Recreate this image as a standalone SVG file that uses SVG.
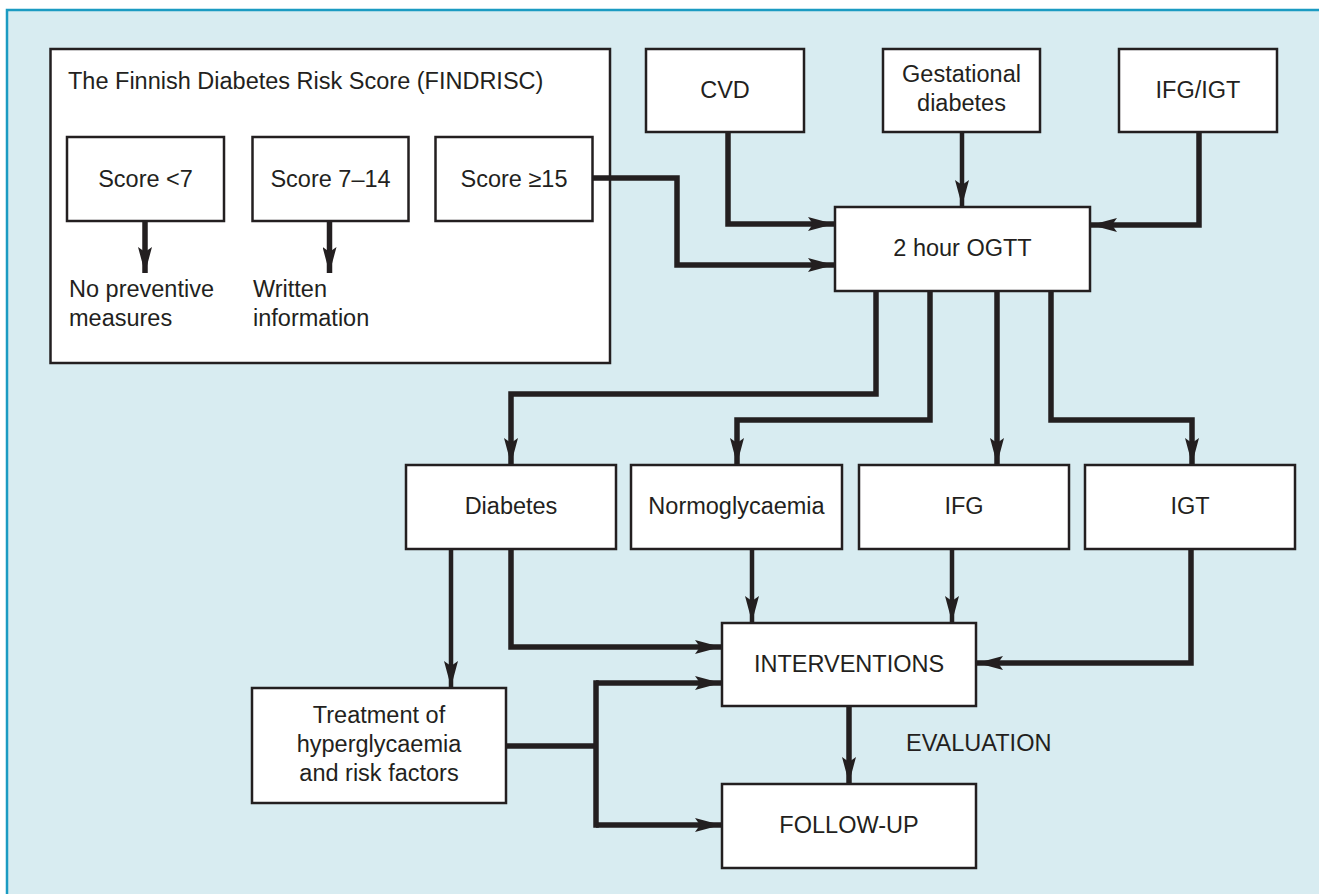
<svg xmlns="http://www.w3.org/2000/svg" width="1319" height="894" viewBox="0 0 1319 894">
<style>
.box{fill:#fff;stroke:#231f20;stroke-width:2.5}
.t{font-family:"Liberation Sans",Arial,sans-serif;font-size:23.5px;fill:#231f20}
.c{text-anchor:middle}
.ln{fill:none;stroke:#231f20;stroke-width:5.5;stroke-linejoin:miter;stroke-linecap:butt}
.thin{stroke-width:4.5}
</style>
<defs>
<marker id="ah" markerUnits="userSpaceOnUse" markerWidth="27" markerHeight="14" refX="26" refY="7" orient="auto" viewBox="0 0 27 14">
<path d="M0,0 L26,7 L0,14 L5,7 z" fill="#231f20"/>
</marker>
</defs>
<rect x="7" y="10" width="1330" height="900" fill="#d8ecf1" stroke="#1b9bc2" stroke-width="2.5"/>

<g id="findrisc">
<rect class="box" x="50.5" y="49" width="559.5" height="314"/>
<text class="t" x="68" y="89">The Finnish Diabetes Risk Score (FINDRISC)</text>
</g>
<g id="score_lt7">
<rect class="box" x="67" y="137" width="157" height="84"/>
<text class="t c" x="145.5" y="187">Score &lt;7</text>
</g>
<g id="score_7_14">
<rect class="box" x="252.5" y="137" width="156" height="84"/>
<text class="t c" x="330.5" y="187">Score 7–14</text>
</g>
<g id="score_ge15">
<rect class="box" x="435.5" y="137" width="157" height="84"/>
<text class="t c" x="514" y="187">Score ≥15</text>
</g>
<g id="no_preventive">
<text class="t" x="69" y="297">No preventive</text>
<text class="t" x="69" y="326">measures</text>
</g>
<g id="written_info">
<text class="t" x="253" y="297">Written</text>
<text class="t" x="253" y="326">information</text>
</g>
<g id="cvd">
<rect class="box" x="646" y="49" width="158" height="83"/>
<text class="t c" x="725" y="98">CVD</text>
</g>
<g id="gestational">
<rect class="box" x="883" y="49" width="157" height="83"/>
<text class="t c" x="961.5" y="82">Gestational</text>
<text class="t c" x="961.5" y="111">diabetes</text>
</g>
<g id="ifg_igt">
<rect class="box" x="1119" y="49" width="158" height="83"/>
<text class="t c" x="1198" y="98">IFG/IGT</text>
</g>
<g id="ogtt">
<rect class="box" x="835" y="207" width="255" height="84"/>
<text class="t c" x="962.5" y="256">2 hour OGTT</text>
</g>
<g id="diabetes">
<rect class="box" x="406" y="465" width="210" height="84"/>
<text class="t c" x="511" y="514">Diabetes</text>
</g>
<g id="normo">
<rect class="box" x="631" y="465" width="211" height="84"/>
<text class="t c" x="736.5" y="514">Normoglycaemia</text>
</g>
<g id="ifg">
<rect class="box" x="859" y="465" width="210" height="84"/>
<text class="t c" x="964" y="514">IFG</text>
</g>
<g id="igt">
<rect class="box" x="1085" y="465" width="210" height="84"/>
<text class="t c" x="1190" y="514">IGT</text>
</g>
<g id="treatment">
<rect class="box" x="252" y="688" width="254" height="115"/>
<text class="t c" x="379" y="723">Treatment of</text>
<text class="t c" x="379" y="752">hyperglycaemia</text>
<text class="t c" x="379" y="781">and risk factors</text>
</g>
<g id="interventions">
<rect class="box" x="722" y="623" width="254" height="83"/>
<text class="t c" x="849" y="672">INTERVENTIONS</text>
</g>
<g id="followup">
<rect class="box" x="722" y="784" width="254" height="84"/>
<text class="t c" x="849" y="833">FOLLOW-UP</text>
</g>
<g id="evaluation_label">
<text class="t" x="906" y="751">EVALUATION</text>
</g>

<g id="connectors">
<path class="ln" d="M145,221 V273" marker-end="url(#ah)"/>
<path class="ln" d="M329.5,221 V273" marker-end="url(#ah)"/>
<path class="ln" d="M592.5,178 H677 V265 H834" marker-end="url(#ah)"/>
<path class="ln" d="M728,132 V224 H834" marker-end="url(#ah)"/>
<path class="ln thin" d="M962,132 V206" marker-end="url(#ah)"/>
<path class="ln" d="M1199,132 V225 H1091" marker-end="url(#ah)"/>
<path class="ln" d="M876,291 V394 H511 V464" marker-end="url(#ah)"/>
<path class="ln" d="M930,291 V420 H737 V464" marker-end="url(#ah)"/>
<path class="ln" d="M997,291 V464" marker-end="url(#ah)"/>
<path class="ln" d="M1051,291 V420 H1192 V464" marker-end="url(#ah)"/>
<path class="ln thin" d="M451,549 V687" marker-end="url(#ah)"/>
<path class="ln" d="M511,549 V647 H721" marker-end="url(#ah)"/>
<path class="ln thin" d="M752,549 V622" marker-end="url(#ah)"/>
<path class="ln thin" d="M952,549 V622" marker-end="url(#ah)"/>
<path class="ln" d="M1191,549 V663 H977" marker-end="url(#ah)"/>
<path class="ln" d="M506,746 H596"/>
<path class="ln" d="M596,683 H721" marker-end="url(#ah)"/>
<path class="ln" d="M596,680.3 V827.7"/>
<path class="ln" d="M596,825 H721" marker-end="url(#ah)"/>
<path class="ln" d="M849,706 V783" marker-end="url(#ah)"/>
</g>
</svg>
